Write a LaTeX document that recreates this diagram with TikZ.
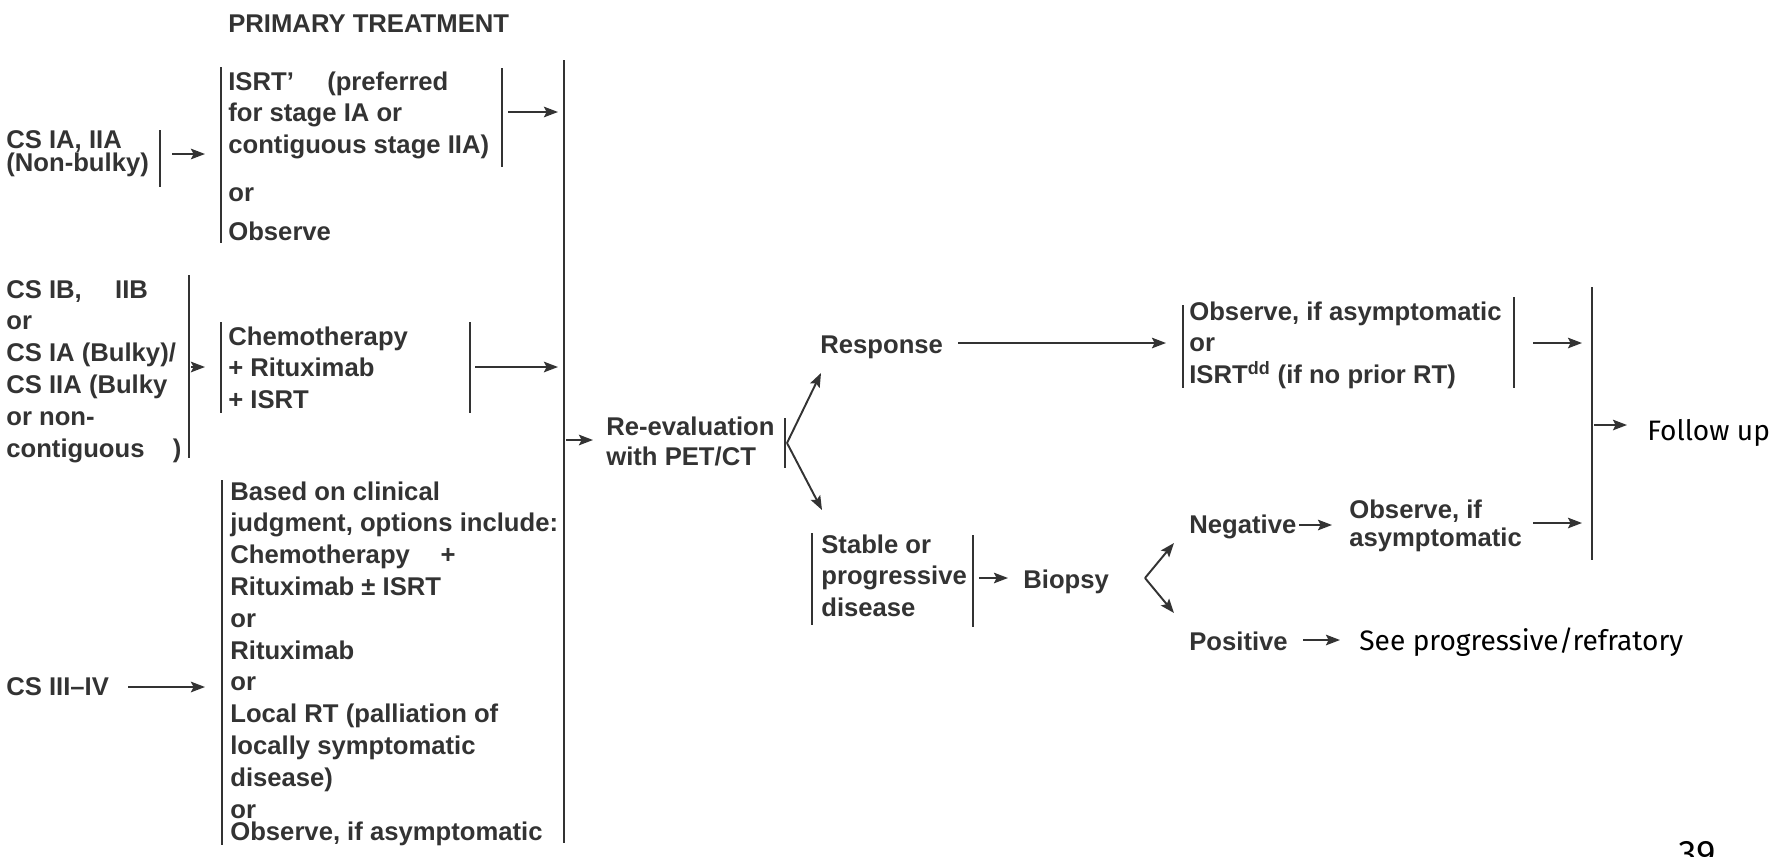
\documentclass[tikz,border=0pt]{standalone}
\usepackage{fontspec}
\setmainfont{Liberation Sans}
\newfontfamily\slidefont{Fira Sans}
\usetikzlibrary{arrows.meta}
\definecolor{ink}{gray}{0.2}
\newcommand{\flowfont}{\fontsize{14.6}{18.1}\selectfont\bfseries}
\newcommand{\flowlines}[1]{\begin{tabular}[t]{@{}l@{}}#1\end{tabular}}

\begin{document}
\begin{tikzpicture}[x=0.02cm, y=-0.02cm,
  txt/.style={anchor=base west, inner sep=0pt, font=\flowfont, text=ink},
  slide/.style={anchor=base west, inner sep=0pt, font=\slidefont\fontsize{16}{19}\selectfont, text=black},
  bar/.style={draw=ink, line width=1.1pt},
  arr/.style={draw=ink, line width=1.1pt, -{Stealth[length=8pt, width=6pt, inset=1.5pt]}}]

\useasboundingbox (0,0) rectangle (1792,856);

% left column
\node[txt] (title) at (228,32) {PRIMARY TREATMENT};
\node[txt] (csA) at (6,148) {\flowlines{CS IA, IIA\\[-5pt](Non-bulky)}};
\node[txt] (isrt) at (228,90) {\flowlines{ISRT'\hspace{1.3em}(preferred\\for stage IA or\\contiguous stage IIA)\\[9pt]or\\[4pt]Observe}};
\node[txt] (csB) at (6,298) {\flowlines{CS IB,\hspace{1.3em}IIB\\or\\CS IA (Bulky)/\\CS IIA (Bulky\\or non-\\contiguous\hspace{1.1em})}};
\node[txt] (chemo) at (228,345) {\flowlines{Chemotherapy\\+ Rituximab\\+ ISRT}};
\node[txt] (csC) at (6,695) {CS III--IV};
\node[txt] (opts) at (230,500) {\flowlines{Based on clinical\\judgment, options include:\\Chemotherapy\hspace{1.2em}+\\Rituximab ± ISRT\\or\\Rituximab\\or\\Local RT (palliation of\\locally symptomatic\\disease)\\or\\[-5.5pt]Observe, if asymptomatic}};

\draw[bar] (160,130) -- (160,187);
\draw[bar] (221,67) -- (221,243);
\draw[bar] (502,68) -- (502,167);
\draw[bar] (189,275) -- (189,458);
\draw[bar] (221,322) -- (221,413);
\draw[bar] (470,322) -- (470,413);
\draw[bar] (222,480) -- (222,845);
\draw[bar] (564,60) -- (564,843);

\coordinate (aOut) at (172,154);   \coordinate (aIn) at (205,154);
\coordinate (isrtOut) at (508,112); \coordinate (isrtIn) at (558,112);
\coordinate (bOut) at (191,367);   \coordinate (bIn) at (205,367);
\coordinate (chemoOut) at (475,367); \coordinate (chemoIn) at (558,367);
\coordinate (cOut) at (128,687);   \coordinate (cIn) at (205,687);

\draw[arr] (aOut) -- (aIn);
\draw[arr] (isrtOut) -- (isrtIn);
\draw[arr] (bOut) -- (bIn);
\draw[arr] (chemoOut) -- (chemoIn);
\draw[arr] (cOut) -- (cIn);

% re-evaluation
\node[txt] (reeval) at (606,435) {\flowlines{Re-evaluation\\[-1pt]with PET/CT}};
\node[txt] (response) at (820,353) {Response};
\node[txt] (stable) at (821,553) {\flowlines{Stable or\\progressive\\disease}};
\node[txt] (biopsy) at (1023,588) {Biopsy};

\draw[bar] (785,418) -- (785,468);
\draw[bar] (812,533) -- (812,625);
\draw[bar] (973,535) -- (973,627);

\coordinate (mainOut) at (566,440); \coordinate (mainIn) at (593,440);
\coordinate (fork) at (787,443);
\coordinate (upTip) at (821,373);  \coordinate (downTip) at (822,510);
\coordinate (rspOut) at (958,343); \coordinate (rspIn) at (1166,343);
\coordinate (stOut) at (979,578);  \coordinate (stIn) at (1008,578);

\draw[arr] (mainOut) -- (mainIn);
\draw[arr] (fork) -- (upTip);
\draw[arr] (fork) -- (downTip);
\draw[arr] (rspOut) -- (rspIn);
\draw[arr] (stOut) -- (stIn);

% right column
\node[txt] (obsD) at (1189,320) {\flowlines{Observe, if asymptomatic\\or\\ISRT\textsuperscript{dd} (if no prior RT)}};
\node[txt] (negative) at (1189,533) {Negative};
\node[txt] (obsN) at (1349,518) {\flowlines{Observe, if\\[-2pt]asymptomatic}};
\node[txt] (positive) at (1189,650) {Positive};
\node[slide] (seeprog) at (1359,650) {See progressive/refratory};
\node[slide] (follow) at (1647,440) {Follow up};
\node[slide, font=\slidefont\fontsize{21}{24}\selectfont] (page) at (1678,866) {39};

\draw[bar] (1183,305) -- (1183,388);
\draw[bar] (1514,297) -- (1514,388);
\draw[bar] (1592,287) -- (1592,560);

\coordinate (bpsFork) at (1145,578);
\coordinate (negTip) at (1174,543); \coordinate (posTip) at (1174,613);
\coordinate (negOut) at (1299,525); \coordinate (negIn) at (1332,525);
\coordinate (posOut) at (1303,640); \coordinate (posIn) at (1340,640);
\coordinate (dOut) at (1533,343);   \coordinate (dIn) at (1582,343);
\coordinate (nOut) at (1533,523);   \coordinate (nIn) at (1582,523);
\coordinate (fOut) at (1594,425);   \coordinate (fIn) at (1627,425);

\draw[arr] (bpsFork) -- (negTip);
\draw[arr] (bpsFork) -- (posTip);
\draw[arr] (negOut) -- (negIn);
\draw[arr] (posOut) -- (posIn);
\draw[arr] (dOut) -- (dIn);
\draw[arr] (nOut) -- (nIn);
\draw[arr] (fOut) -- (fIn);

\end{tikzpicture}
\end{document}
